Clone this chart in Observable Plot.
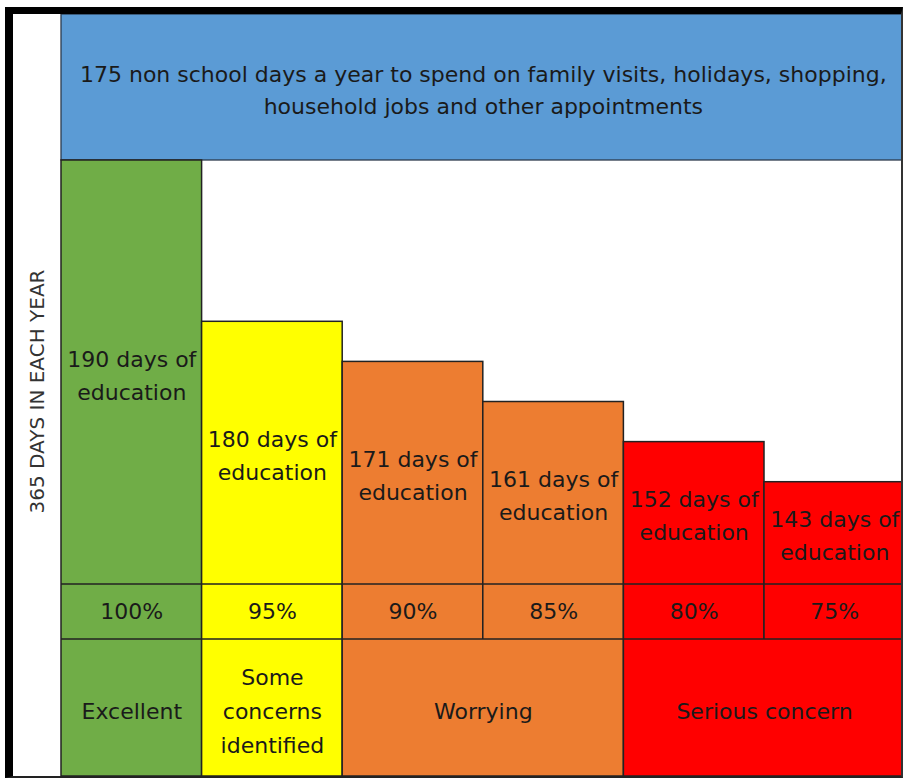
<!DOCTYPE html>
<html>
<head>
<meta charset="utf-8">
<script src="https://cdn.jsdelivr.net/npm/d3@7"></script>
<script src="https://cdn.jsdelivr.net/npm/@observablehq/plot@0.6"></script>
<style>
  html, body { margin: 0; padding: 0; background: #fff; }
  #frame {
    position: absolute; left: 5px; top: 7px;
    width: 888px; height: 762px;
    border-left: 8px solid #000; border-top: 7px solid #000;
    border-right: 2px solid #333; border-bottom: 2px solid #222;
    overflow: hidden;
  }
  #frame svg { display: block; }
</style>
</head>
<body>
<div id="frame"></div>
<script>
// ---- data ----
const totalDays = 365;
const nonSchoolDays = 175;
const nonSchoolText = "non school days a year to spend on family visits, holidays, shopping,\nhousehold jobs and other appointments";
const days = [190, 180, 171, 161, 152, 143];
const percents = ["100%", "95%", "90%", "85%", "80%", "75%"];
const bandColors = ["#70AD47", "#FFFF00", "#ED7D31", "#ED7D31", "#FF0000", "#FF0000"];
const ratingLabels = ["Excellent", "Some\nconcerns\nidentified", "Worrying", "Serious concern"];
const ratingStart = [0, 1, 2, 4];
const ratingEnd = [1, 2, 4, 6];
const ratingColors = ["#70AD47", "#FFFF00", "#ED7D31", "#FF0000"];
const blueColor = "#5B9BD5";

// ---- layout ----
const W = 888;
const topH = 570, pctH = 55, ratingH = 137;
const xRange = [48, 891.6];
// the original diagram is not to scale: each lower band steps down by a fixed amount
const firstStepH = 262.7, stepH = 40.1, blueBottomH = 424;
const font = "DejaVu Sans";
const ink = "#1a1a1a";
const lineColor = "#222";

// piecewise display height (above bar base) for a number of days
const stepDays = days.slice(1);                       // 180 .. 143
const stepHeights = stepDays.map((d, i) => firstStepH - i * stepH);
const hDomain = [0, ...stepDays.slice().reverse(), totalDays - nonSchoolDays, totalDays];
const hRange = [0, ...stepHeights.slice().reverse(), blueBottomH, topH];
const dayHeight = d3.scaleLinear(hDomain, hRange);
const mid = (a, b) => dayHeight.invert((dayHeight(a) + dayHeight(b)) / 2);

const idx = days.map((d, i) => i);
const n = days.length;
const blueData = [{x1: 0, x2: n, y1: totalDays - nonSchoolDays, y2: totalDays,
                   text: nonSchoolDays + " " + nonSchoolText}];

const common = {
  width: W, marginTop: 0, marginRight: 0, marginBottom: 0, marginLeft: 0,
  x: {domain: [0, n], range: xRange, axis: null},
  color: {type: "identity"},
  style: {fontFamily: font, background: "transparent", overflow: "hidden"}
};

const mainChart = Plot.plot({
  ...common,
  height: topH,
  y: {transform: dayHeight, domain: [0, topH], axis: null},
  marks: [
    Plot.rect(blueData, {x1: "x1", x2: "x2", y1: "y1", y2: "y2", fill: blueColor, stroke: "#2d3b4d", strokeWidth: 1.3}),
    Plot.rect(idx, {x1: i => i, x2: i => i + 1, y1: () => 0, y2: i => days[i],
                    fill: i => bandColors[i], stroke: lineColor, strokeWidth: 1.5}),
    Plot.text(idx, {x: i => i + 0.5, y: i => mid(0, days[i]),
                    text: i => `${days[i]} days of\neducation`,
                    fontSize: 22, lineHeight: 1.5, fill: ink}),
    Plot.text(blueData, {x: d => (d.x1 + d.x2) / 2, y: d => mid(d.y1, d.y2), text: "text",
                         fontSize: 22, lineHeight: 1.47, fill: ink}),
    Plot.text([`${totalDays} DAYS IN EACH YEAR`], {text: d => d, frameAnchor: "top-left",
               textAnchor: "middle", lineAnchor: "middle", dx: 24, dy: 377, rotate: -90,
               fontSize: 20, fill: "#333"})
  ]
});

const pctChart = Plot.plot({
  ...common,
  height: pctH,
  marks: [
    Plot.rect(idx, {x1: i => i, x2: i => i + 1, fill: i => bandColors[i], stroke: lineColor, strokeWidth: 1.5}),
    Plot.text(idx, {x: i => i + 0.5, frameAnchor: "middle", text: i => percents[i], fontSize: 22, fill: ink})
  ]
});

const ratingIdx = ratingLabels.map((d, i) => i);
const ratingChart = Plot.plot({
  ...common,
  height: ratingH,
  marks: [
    Plot.rect(ratingIdx, {x1: i => ratingStart[i], x2: i => ratingEnd[i], fill: i => ratingColors[i],
                          stroke: lineColor, strokeWidth: 1.5}),
    Plot.text(ratingIdx, {x: i => (ratingStart[i] + ratingEnd[i]) / 2, frameAnchor: "middle",
                          text: i => ratingLabels[i], fontSize: 22, lineHeight: 1.55, fill: ink})
  ]
});

document.getElementById("frame").append(mainChart, pctChart, ratingChart);
</script>
</body>
</html>
